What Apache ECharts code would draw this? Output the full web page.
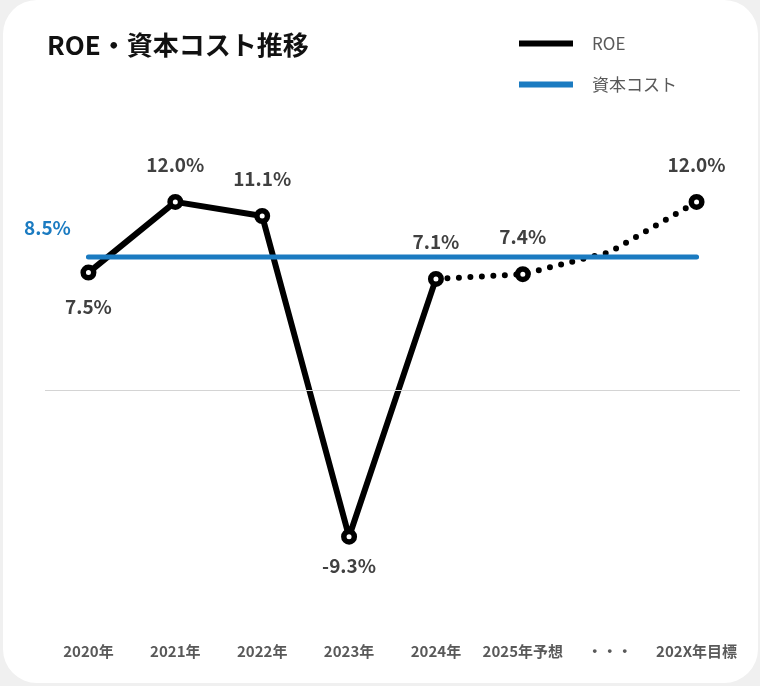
<!DOCTYPE html>
<html>
<head>
<meta charset="utf-8">
<script src="https://cdn.jsdelivr.net/npm/echarts@6/dist/echarts.min.js"></script>
<style>
  html, body { margin: 0; padding: 0; background: #f0f0f0; }
  #chart { width: 760px; height: 686px; }
</style>
</head>
<body>
<div id="chart"></div>
<script>
// Categories along the x axis
const categories = ['2020年', '2021年', '2022年', '2023年', '2024年', '2025年予想', '・・・', '202X年目標'];
// ROE results (solid line)
const roeActual = [7.5, 12.0, 11.1, -9.3, 7.1, null, null, null];
// ROE outlook / target (dotted line)
const roePlan = [null, null, null, null, 7.1, 7.4, 8.8, 12.0];
// Cost of capital (flat line)
const costOfCapital = [8.5, 8.5, 8.5, 8.5, 8.5, 8.5, 8.5, 8.5];
// Points whose value label sits below the marker
const labelsBelow = ['2020年', '2023年'];
// Points on the dotted line that get a marker and a label
const planMarked = ['2025年予想', '202X年目標'];

const FONT = '"Noto Sans CJK JP", "Noto Sans", sans-serif';
const LABEL_COLOR = '#404040';
const BLUE = '#1b7bc1';

const pctLabel = (v, pos, dist) => ({
  show: true,
  position: pos,
  distance: dist,
  formatter: v.toFixed(1) + '%',
  fontFamily: FONT,
  fontSize: 19,
  fontWeight: 'bold',
  color: LABEL_COLOR
});

const actualData = roeActual.map((v, i) => {
  if (v === null) return null;
  const below = labelsBelow.includes(categories[i]);
  const dist = below ? (v < 0 ? 12 : 17) : 20;
  return { value: v, label: pctLabel(v, below ? 'bottom' : 'top', dist) };
});

const planData = roePlan.map((v, i) => {
  if (v === null) return null;
  if (planMarked.includes(categories[i])) {
    return { value: v, label: pctLabel(v, 'top', 20) };
  }
  return { value: v, symbol: 'none', label: { show: false } };
});

const costData = costOfCapital.map((v, i) => i === 0
  ? {
      value: v,
      label: {
        show: true,
        position: 'top',
        distance: 19,
        offset: [-41, 0],
        formatter: v.toFixed(1) + '%',
        fontFamily: FONT,
        fontSize: 19,
        fontWeight: 'bold',
        color: BLUE
      }
    }
  : { value: v });

// Ring markers: white fill inside a thick black border
const ringStyle = { color: '#ffffff', borderColor: '#000000', borderWidth: 5.5 };

const chart = echarts.init(document.getElementById('chart'), null, { renderer: 'canvas' });

chart.setOption({
  animation: false,
  backgroundColor: 'transparent',
  graphic: [{
    type: 'rect',
    z: -10,
    silent: true,
    shape: { x: 3, y: 0, width: 755, height: 683, r: 34 },
    style: { fill: '#ffffff' }
  }],
  title: {
    text: 'ROE・資本コスト推移',
    left: 42,
    top: 27,
    textStyle: { fontFamily: FONT, fontSize: 26, fontWeight: 'bold', color: '#111111' }
  },
  legend: {
    orient: 'vertical',
    left: 514,
    top: 30,
    itemWidth: 54,
    itemHeight: 6,
    itemGap: 24,
    icon: 'rect',
    textStyle: { fontFamily: FONT, fontSize: 17, color: '#595959', padding: [0, 0, 0, 14] },
    data: [
      { name: 'ROE', itemStyle: { color: '#000000', borderWidth: 0 } },
      { name: '資本コスト', itemStyle: { color: BLUE, borderWidth: 0 } }
    ]
  },
  grid: { left: 45, right: 20, top: 139, bottom: 44 },
  xAxis: {
    type: 'category',
    data: categories,
    boundaryGap: true,
    axisLine: { show: false },
    axisTick: { show: false },
    axisLabel: {
      interval: 0,
      margin: 2,
      fontFamily: FONT,
      fontSize: 15,
      fontWeight: 'bold',
      color: '#595959'
    }
  },
  yAxis: {
    type: 'value',
    min: -16,
    max: 16,
    axisLine: { show: false },
    axisTick: { show: false },
    axisLabel: { show: false },
    splitLine: { show: false }
  },
  series: [
    {
      // zero baseline
      name: 'baseline',
      type: 'line',
      z: 1,
      data: [],
      silent: true,
      markLine: {
        silent: true,
        symbol: 'none',
        label: { show: false },
        lineStyle: { color: '#d4d4d4', width: 1, type: 'solid' },
        data: [{ yAxis: 0 }]
      }
    },
    {
      name: 'ROE',
      type: 'line',
      z: 3,
      data: actualData,
      connectNulls: false,
      symbol: 'circle',
      symbolSize: 10.5,
      itemStyle: ringStyle,
      lineStyle: { color: '#000000', width: 6, join: 'round' }
    },
    {
      name: 'ROE',
      type: 'line',
      z: 3,
      data: planData,
      symbol: 'circle',
      symbolSize: 10.5,
      itemStyle: ringStyle,
      lineStyle: { color: '#000000', width: 6, type: [0, 11.5], cap: 'round' }
    },
    {
      name: '資本コスト',
      type: 'line',
      z: 4,
      data: costData,
      symbol: 'circle',
      symbolSize: 1,
      itemStyle: { color: BLUE },
      lineStyle: { color: BLUE, width: 5, cap: 'round' }
    }
  ]
});
</script>
</body>
</html>
